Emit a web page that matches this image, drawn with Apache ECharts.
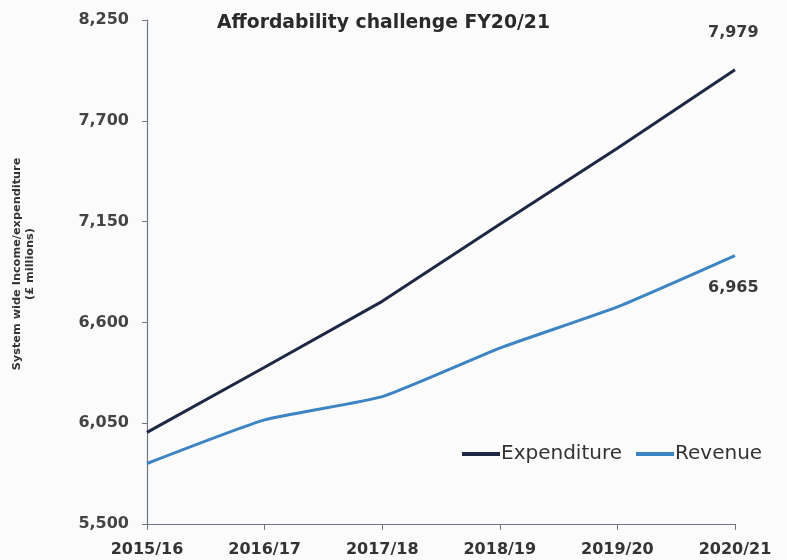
<!DOCTYPE html>
<html>
<head>
<meta charset="utf-8">
<script src="https://cdn.jsdelivr.net/npm/echarts@6/dist/echarts.min.js"></script>
<style>html,body{margin:0;padding:0;background:#fbfbfb;}#c{width:787px;height:560px;}</style>
</head>
<body>
<div id="c"></div>
<script>
const categories = ['2015/16', '2016/17', '2017/18', '2018/19', '2019/20', '2020/21'];
const expenditure = [6000, 6355, 6715, 7135, 7550, 7979];
const revenue = [5830, 6068, 6195, 6460, 6685, 6965];
const yMin = 5500, yMax = 8250, yStep = 550;

const fmt = v => Number(v).toLocaleString('en-US');
const endLabelStyle = (offset) => ({
  show: true, offset: offset, distance: 0,
  formatter: p => fmt(p.value),
  color: '#3a3a3a', fontWeight: 'bold', fontSize: 16, fontFamily: 'DejaVu Sans'
});

const chart = echarts.init(document.getElementById('c'));
chart.setOption({
  backgroundColor: '#fbfbfb',
  animation: false,
  title: {
    text: 'Affordability challenge FY20/21',
    left: 212, top: 9,
    textStyle: { fontFamily: 'DejaVu Sans', fontWeight: 'bold', fontSize: 18.8, color: '#2a2a2a' }
  },
  legend: {
    data: ['Expenditure', 'Revenue'],
    left: 457, top: 439,
    icon: 'rect', itemWidth: 38, itemHeight: 4, itemGap: 14,
    textStyle: { fontFamily: 'DejaVu Sans', fontSize: 20, color: '#333', padding: [0, 0, 0, -4] }
  },
  grid: { left: 147, right: 52, top: 20, bottom: 36, containLabel: false },
  xAxis: {
    type: 'category', data: categories, boundaryGap: false,
    axisLine: { lineStyle: { color: '#6f7785', width: 1.2 } },
    axisTick: { show: true, length: 6, lineStyle: { color: '#6f7785' } },
    axisLabel: { margin: 18, fontFamily: 'DejaVu Sans', fontWeight: 'bold', fontSize: 16, color: '#333' }
  },
  yAxis: {
    type: 'value', min: yMin, max: yMax, interval: yStep,
    name: 'System wide Income/expenditure\n(£ millions)',
    nameLocation: 'middle', nameRotate: 90, nameGap: 110,
    nameTextStyle: { fontFamily: 'DejaVu Sans', fontWeight: 'bold', fontSize: 11.3, color: '#333', lineHeight: 13, padding: [0, 0, 0, 16] },
    axisLine: { show: true, lineStyle: { color: '#6f7785', width: 1.2 } },
    axisTick: { show: true, length: 5, lineStyle: { color: '#6f7785' } },
    splitLine: { show: false },
    axisLabel: { margin: 18, fontFamily: 'DejaVu Sans', fontWeight: 'bold', fontSize: 16, color: '#444',
      formatter: v => fmt(v) }
  },
  series: [
    { name: 'Expenditure', type: 'line', data: expenditure,
      symbol: 'none', showSymbol: false, smooth: false,
      endLabel: endLabelStyle([-27, -37]),
      lineStyle: { color: '#1e2743', width: 3 }, itemStyle: { color: '#1e2743' } },
    { name: 'Revenue', type: 'line', data: revenue,
      symbol: 'none', showSymbol: false, smooth: 0.15,
      endLabel: endLabelStyle([-27, 32]),
      lineStyle: { color: '#3d84c4', width: 3 }, itemStyle: { color: '#3d84c4' } }
  ]
});
</script>
</body>
</html>
